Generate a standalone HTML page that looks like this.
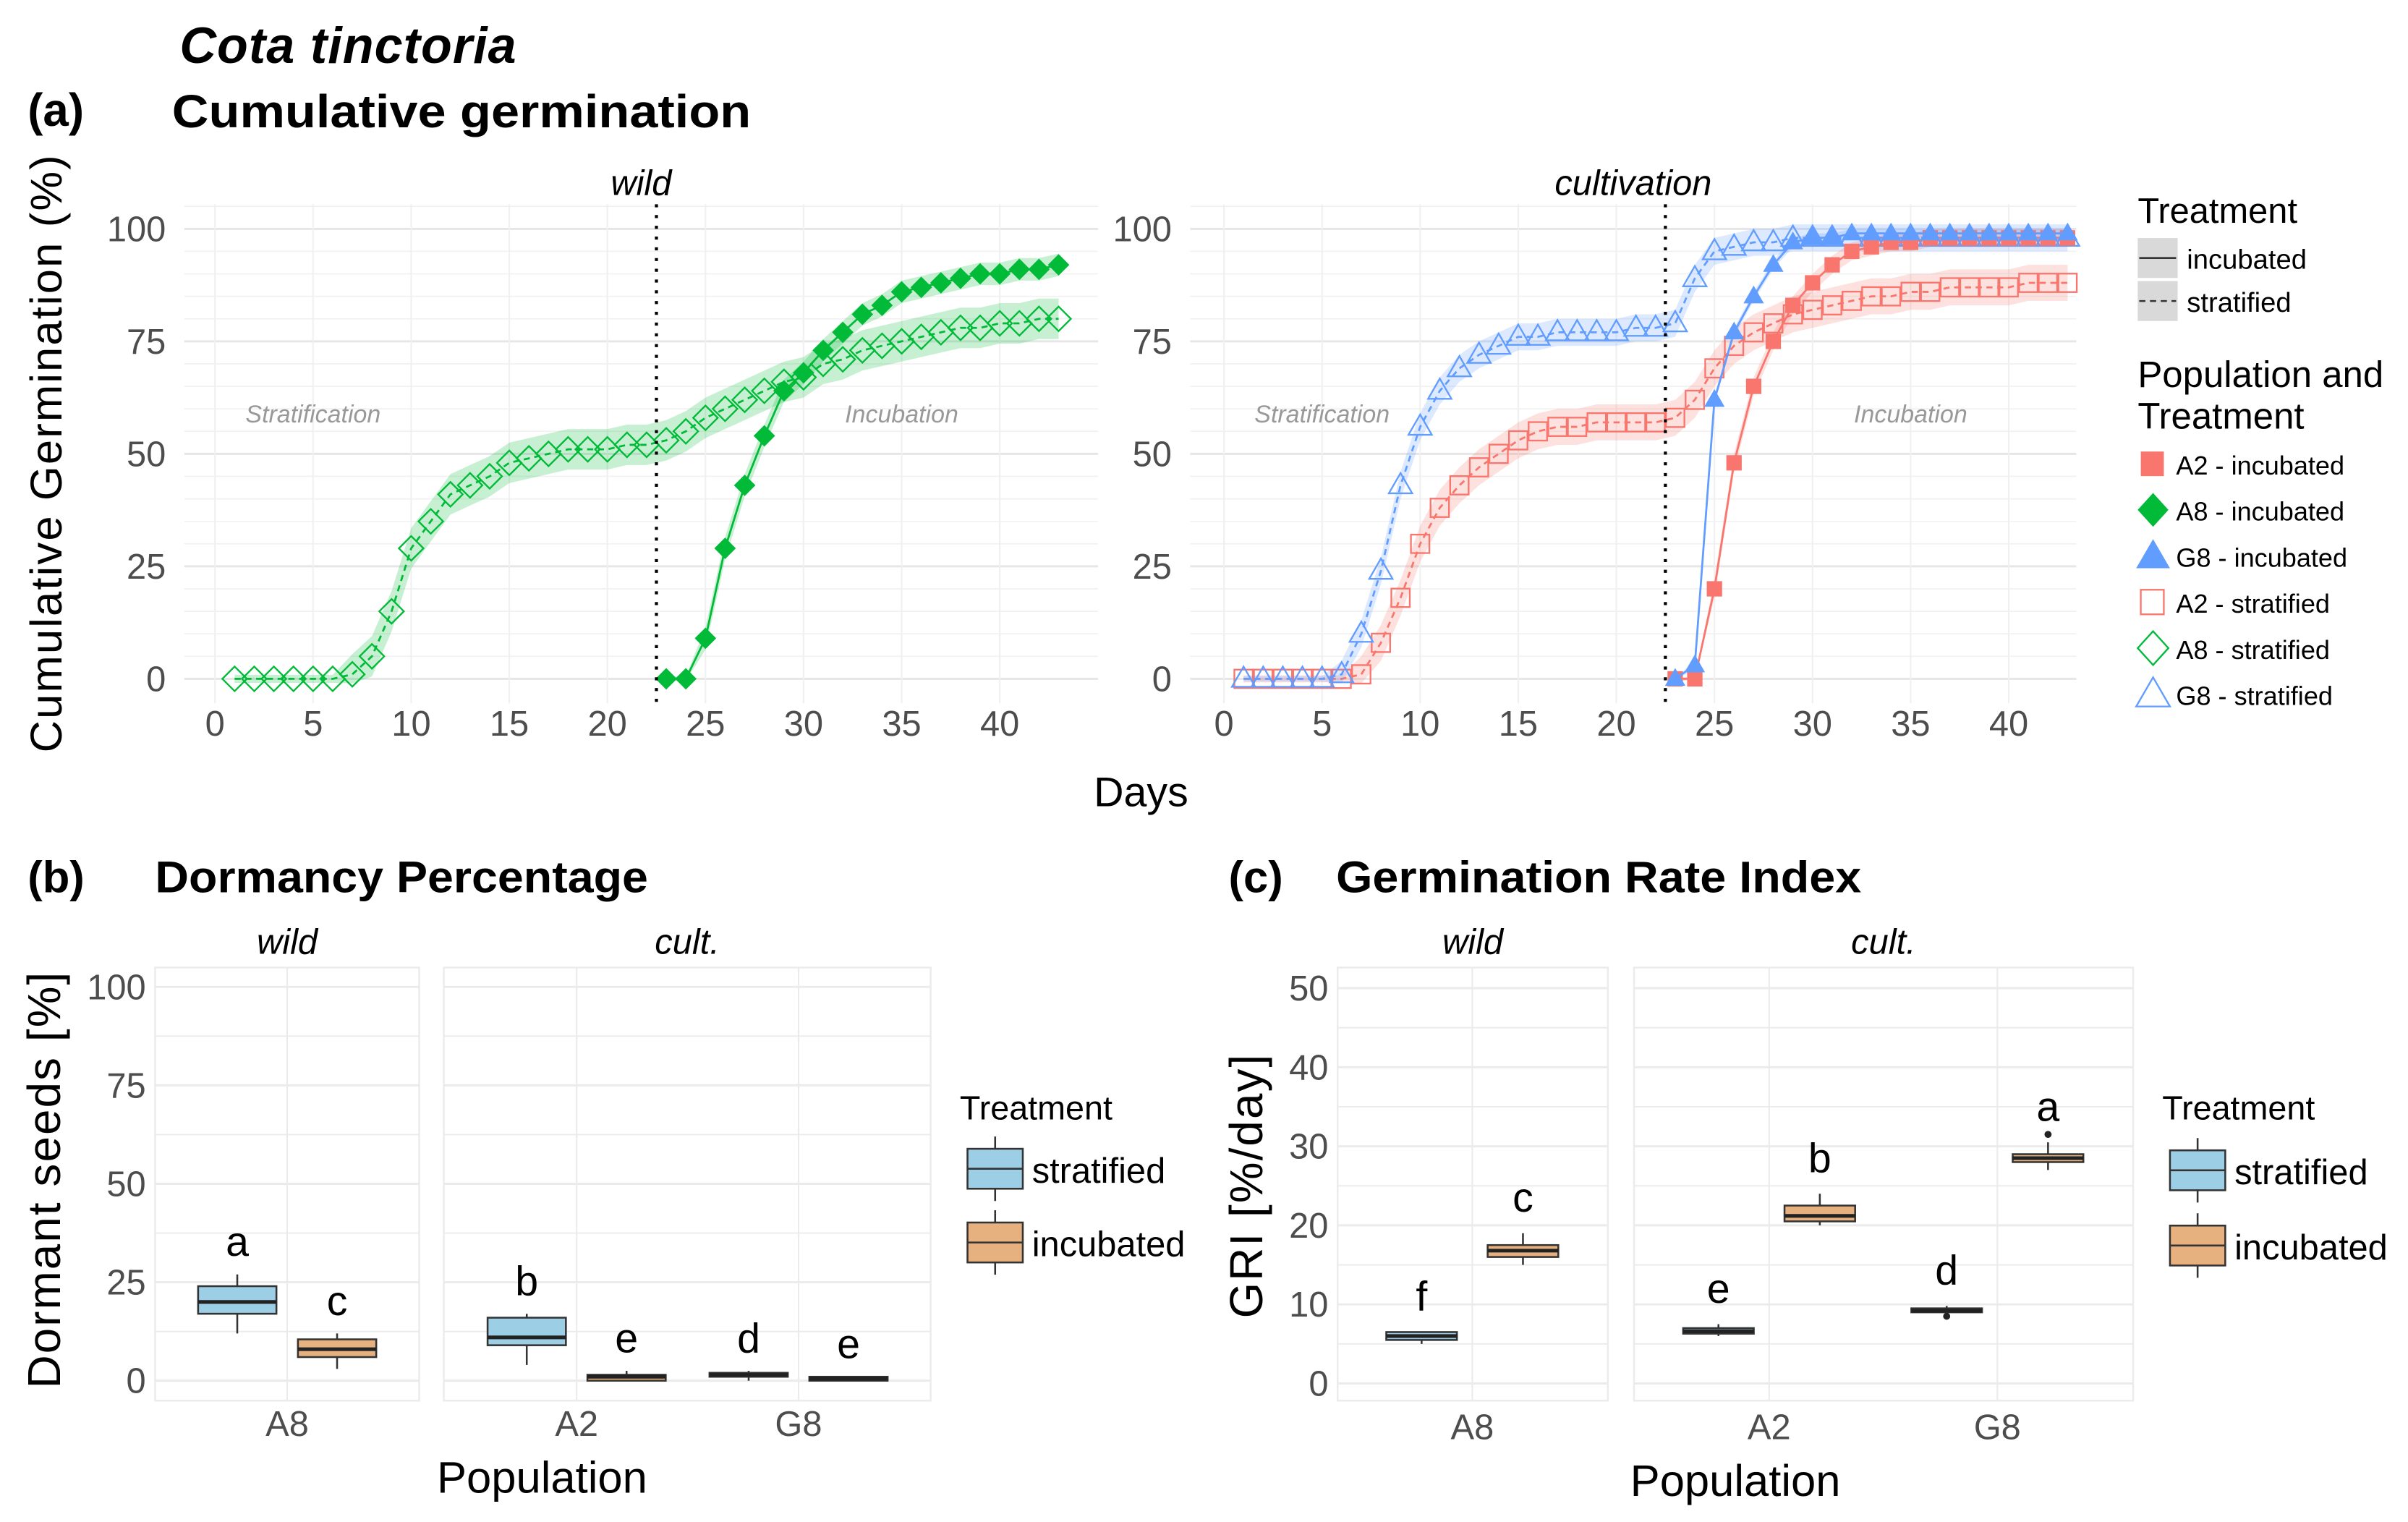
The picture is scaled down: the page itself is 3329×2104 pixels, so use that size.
<!DOCTYPE html>
<html><head><meta charset="utf-8"><style>
html,body{margin:0;padding:0;background:#fff;}
svg{display:block;font-family:"Liberation Sans",Arial,sans-serif;}
</style></head><body>
<svg id="fig" xmlns="http://www.w3.org/2000/svg" width="3329" height="2104" viewBox="0 0 1568 991">
<rect x="0" y="0" width="1568" height="991" fill="#fff"/>
<text x="117" y="41" font-size="33" font-weight="bold" font-style="italic" letter-spacing="0.5">Cota tinctoria</text>
<text x="18" y="82" font-size="30" font-weight="bold">(a)</text>
<text x="112" y="83" font-size="30" font-weight="bold" textLength="377" lengthAdjust="spacingAndGlyphs">Cumulative germination</text>
<text x="18" y="581" font-size="29" font-weight="bold">(b)</text>
<text x="101" y="581" font-size="29" font-weight="bold" textLength="321" lengthAdjust="spacingAndGlyphs">Dormancy Percentage</text>
<text x="800" y="581" font-size="29" font-weight="bold">(c)</text>
<text x="870" y="581" font-size="29" font-weight="bold" textLength="342" lengthAdjust="spacingAndGlyphs">Germination Rate Index</text>
<g id="g"></g>
</svg>
<script>
// ---------- Panel (a) data ----------
const wildStratDays = [1,2,3,4,5,6,7,8,9,10,11,12,13,14,15,16,17,18,19,20,21,22,23,24,25,26,27,28,29,30,31,32,33,34,35,36,37,38,39,40,41,42,43];
const wildStratVals = [0,0,0,0,0,0,1,5,15,29,35,41,43,45,48,49,50,51,51,51,52,52,53,55,58,60,62,64,66,67,70,71,73,74,75,76,77,78,78,79,79,80,80];
const wildIncDays = [23,24,25,26,27,28,29,30,31,32,33,34,35,36,37,38,39,40,41,42,43];
const wildIncVals = [0,0,9,29,43,54,64,68,73,77,81,83,86,87,88,89,90,90,91,91,92];
const cultStratDays = [1,2,3,4,5,6,7,8,9,10,11,12,13,14,15,16,17,18,19,20,21,22,23,24,25,26,27,28,29,30,31,32,33,34,35,36,37,38,39,40,41,42,43];
const g8StratVals = [0,0,0,0,0,1,10,24,43,56,64,69,72,74,76,76,77,77,77,77,78,78,79,89,95,96,97,97,98,98,98,98,98,98,98,98,98,98,98,98,98,98,98];
const a2StratVals = [0,0,0,0,0,0,1,8,18,30,38,43,47,50,53,55,56,56,57,57,57,57,58,62,69,74,77,79,81,82,83,84,85,85,86,86,87,87,87,87,88,88,88];
const cultIncDays = [23,24,25,26,27,28,29,30,31,32,33,34,35,36,37,38,39,40,41,42,43];
const g8IncVals = [0,3,62,77,85,92,97,98,98,99,99,99,99,99,99,99,99,99,99,99,99];
const a2IncVals = [0,0,20,48,65,75,83,88,92,95,96,97,97,98,98,98,98,98,98,98,98];
const dayTicks = [0,5,10,15,20,25,30,35,40];
const pctTicks = [0,25,50,75,100];

// ---------- Panel (b) data ----------
const popCats = ["A8","A2","G8"];
// [whiskerLow, q1, median, q3, whiskerHigh]
const dormStrat = [[12,17,20,24,27],[4,9,11,16,17],[0,1,1.5,2,2.5]];
const dormInc = [[3,6,8,10.5,12],[0,0,1,1.5,2.5],[0,0,0.5,1,1]];
const dormLettersStrat = ["a","b","d"];
const dormLettersInc = ["c","e","e"];
const dormTicks = [0,25,50,75,100];

// ---------- Panel (c) data ----------
const griStrat = [[5,5.5,6,6.5,6.5],[6,6.3,6.6,7,7.5],[9,9,9.2,9.5,9.8]];
const griInc = [[15,16,16.8,17.5,19],[20,20.5,21.2,22.5,24],[27,28,28.5,29,30.5]];
const griOutStrat = [null,null,8.5];
const griOutInc = [null,null,31.5];
const griLettersStrat = ["f","e","d"];
const griLettersInc = ["c","b","a"];
const griTicks = [0,10,20,30,40,50];

const NS="http://www.w3.org/2000/svg";
const root=document.getElementById('g');
function mk(tag,attrs,parent){const e=document.createElementNS(NS,tag);for(const k in attrs)e.setAttribute(k,attrs[k]);(parent||root).appendChild(e);return e;}
function txt(x,y,s,attrs,parent){const e=mk('text',Object.assign({x:x,y:y},attrs),parent);e.textContent=s;return e;}

const GREEN="#00BA38",RED="#F8766D",BLUE="#619CFF";

// ---------- Panel (a) ----------
function cumPanel(name,x0,x1,day0px,day40px,stripLabel,series){
  const g=mk('g',{});
  
  
  const X=d=>day0px+(day40px-day0px)*d/40;
  const Y=v=>442+(149-442)*v/100;
  for(let v=0;v<=105;v+=5){
    const l=mk('line',{x1:x0,x2:x1,y1:Y(v),y2:Y(v),stroke:v%25===0?'#e6e6e6':'#f1f1f1','stroke-width':v%25===0?1.4:0.8},g);
    
    
  }
  for(let d=0;d<=43;d+=5){
    const l=mk('line',{x1:X(d),x2:X(d),y1:133,y2:458,stroke:'#f0f0f0','stroke-width':1},g);
    
    
  }
  pctTicks.forEach(v=>{const t=txt(x0-12,Y(v)+8,String(v),{'font-size':23,fill:'#4d4d4d','text-anchor':'end'},g);
    });
  dayTicks.forEach(d=>{const t=txt(X(d),479,String(d),{'font-size':23,fill:'#4d4d4d','text-anchor':'middle'},g);
    });
  const s=txt((x0+x1)/2,127,stripLabel,{'font-size':23,'font-style':'italic','text-anchor':'middle'},g);
  
  const a1=txt(X(5),275,'Stratification',{'font-size':16,'font-style':'italic',fill:'#999','text-anchor':'middle'},g);
  
  const a2=txt(X(35),275,'Incubation',{'font-size':16,'font-style':'italic',fill:'#999','text-anchor':'middle'},g);
  
  series.forEach(sr=>{
    let up=sr.days.map((d,i)=>X(d)+','+Y(Math.min(sr.vals[i]+sr.ci*(sr.vals[i]>0?1:0.2),102)));
    let lo=sr.days.map((d,i)=>X(d)+','+Y(Math.max(sr.vals[i]-sr.ci*(sr.vals[i]>0?1:0.2),-1))).reverse();
    const rb=mk('polygon',{points:up.concat(lo).join(' '),fill:sr.col,'fill-opacity':0.22,stroke:'none'},g);
    
    const ln=mk('polyline',{points:sr.days.map((d,i)=>X(d)+','+Y(sr.vals[i])).join(' '),fill:'none',stroke:sr.col,'stroke-width':1.3,'stroke-dasharray':sr.dash?'4,3':'none'},g);
    
    sr.days.forEach((d,i)=>{
      const m=marker(sr.shape,X(d),Y(sr.vals[i]),sr.col,sr.filled,g);
      
      
    });
  });
  const vl=mk('line',{x1:X(22.5),x2:X(22.5),y1:133,y2:458,stroke:'#000','stroke-width':2,'stroke-dasharray':'2,5'},g);
  
}
function marker(shape,x,y,col,filled,g){
  const fill=filled?col:'none',sw=filled?0:1.1;
  if(shape==='diamond'){const r=filled?7:8;return mk('polygon',{points:`${x},${y-r} ${x+r},${y} ${x},${y+r} ${x-r},${y}`,fill:fill,stroke:col,'stroke-width':sw},g);}
  if(shape==='square'){const r=filled?5:6;return mk('rect',{x:x-r,y:y-r,width:2*r,height:2*r,fill:fill,stroke:col,'stroke-width':sw},g);}
  const r=filled?7:8;return mk('polygon',{points:`${x},${y-r} ${x+r*0.95},${y+r*0.65} ${x-r*0.95},${y+r*0.65}`,fill:fill,stroke:col,'stroke-width':sw},g);
}
cumPanel('wild-germination-panel',120,715,140,651,'wild',[
  {name:'a8-stratified',days:wildStratDays,vals:wildStratVals,col:GREEN,shape:'diamond',filled:false,dash:true,ci:4.5},
  {name:'a8-incubated',days:wildIncDays,vals:wildIncVals,col:GREEN,shape:'diamond',filled:true,dash:false,ci:2.5}
]);
cumPanel('cultivation-germination-panel',775,1352,797,1308,'cultivation',[
  {name:'a2-stratified',days:cultStratDays,vals:a2StratVals,col:RED,shape:'square',filled:false,dash:true,ci:4},
  {name:'g8-stratified',days:cultStratDays,vals:g8StratVals,col:BLUE,shape:'triangle',filled:false,dash:true,ci:3},
  {name:'a2-incubated',days:cultIncDays,vals:a2IncVals,col:RED,shape:'square',filled:true,dash:false,ci:2},
  {name:'g8-incubated',days:cultIncDays,vals:g8IncVals,col:BLUE,shape:'triangle',filled:true,dash:false,ci:1}
]);
let t;
t=txt(40,295,'Cumulative Germination (%)',{'font-size':29,'letter-spacing':'1','text-anchor':'middle',transform:'rotate(-90 40 295)'});

t=txt(743,525,'Days',{'font-size':27,'text-anchor':'middle'});


// legend (a)
t=txt(1392,145,'Treatment',{'font-size':23});

[['incubated',155,'none'],['stratified',183,'4,3']].forEach(([lab,y,dash])=>{
  const g=mk('g',{});
  
  mk('rect',{x:1392,y:y,width:26,height:26,fill:'#d9d9d9'},g);
  mk('line',{x1:1393,x2:1417,y1:y+13,y2:y+13,stroke:'#333','stroke-width':1.2,'stroke-dasharray':dash},g);
  txt(1424,y+20,lab,{'font-size':18},g);
});
t=txt(1392,252,'Population and',{'font-size':24});

t=txt(1392,279,'Treatment',{'font-size':24});

[['A2 - incubated','square',RED,true],['A8 - incubated','diamond',GREEN,true],['G8 - incubated','triangle',BLUE,true],
 ['A2 - stratified','square',RED,false],['A8 - stratified','diamond',GREEN,false],['G8 - stratified','triangle',BLUE,false]].forEach((e,i)=>{
  const g=mk('g',{});
  
  
  const y=302+30*i;
  const m=marker(e[1],1402,y,e[2],e[3],g);
  if(e[1]==='square'){m.setAttribute('x',1394);m.setAttribute('y',y-8);m.setAttribute('width',15);m.setAttribute('height',16);}
  if(e[1]==='diamond'){m.setAttribute('points',`1402,${y-11} 1412,${y} 1402,${y+11} 1392,${y}`);}
  if(e[1]==='triangle'){m.setAttribute('points',`1402,${y-11} 1413,${y+8} 1391,${y+8}`);}
  txt(1417,y+7,e[0],{'font-size':17},g);
});

// ---------- Box panels ----------
function boxFigure(name,cfg){
  const Y=v=>cfg.y0+(cfg.yTop-cfg.y0)*v/cfg.max;
  cfg.facets.forEach(f=>{
    const g=mk('g',{});
    
    
    mk('rect',{x:f.x0,y:630,width:f.x1-f.x0,height:282,fill:'none',stroke:'#ececec','stroke-width':1.2},g);
    for(let v=0;v<=cfg.max;v+=cfg.step/2){
      mk('line',{x1:f.x0,x2:f.x1,y1:Y(v),y2:Y(v),stroke:'#ebebeb','stroke-width':(v%cfg.step===0)?1.4:0.9},g);
    }
    f.cats.forEach(ci=>{mk('line',{x1:f.cx[ci],x2:f.cx[ci],y1:630,y2:912,stroke:'#ebebeb','stroke-width':1},g);
      const tl=txt(f.cx[ci],cfg.xTickY,popCats[ci],{'font-size':23,fill:'#4d4d4d','text-anchor':'middle'},g);
      });
    const st=txt((f.x0+f.x1)/2,621,f.label,{'font-size':23,'font-style':'italic','text-anchor':'middle'},g);
    
    f.cats.forEach(ci=>{
      [[cfg.strat[ci],-cfg.dodge,'#9ccfe6',cfg.lStrat[ci],cfg.outStrat?cfg.outStrat[ci]:null,'stratified'],
       [cfg.inc[ci],cfg.dodge,'#e6b07f',cfg.lInc[ci],cfg.outInc?cfg.outInc[ci]:null,'incubated']].forEach(([b,off,col,lt,out,tr])=>{
        const cx=f.cx[ci]+off,w=cfg.bw;
        const bg=mk('g',{},g);
        
        
        mk('line',{x1:cx,x2:cx,y1:Y(b[0]),y2:Y(b[4]),stroke:'#333','stroke-width':1.2},bg);
        mk('rect',{x:cx-w/2,y:Y(b[3]),width:w,height:Math.max(Y(b[1])-Y(b[3]),1.5),fill:col,stroke:'#333','stroke-width':1.2},bg);
        mk('line',{x1:cx-w/2,x2:cx+w/2,y1:Y(b[2]),y2:Y(b[2]),stroke:'#222','stroke-width':2.4},bg);
        if(out!==null)mk('circle',{cx:cx,cy:Y(out),r:2.3,fill:'#222'},bg);
        const lg=txt(cx,Y(b[4])-cfg.letterGap,lt,{'font-size':27,'text-anchor':'middle'},g);
        
      });
    });
  });
  cfg.ticks.forEach(v=>{const tl=txt(cfg.facets[0].x0-6,Y(v)+8,String(v),{'font-size':23,fill:'#4d4d4d','text-anchor':'end'});
    });
  let tt=txt(cfg.yTitleX,cfg.yTitleY,cfg.yTitle,{'font-size':30,'letter-spacing':'1','text-anchor':'middle',transform:`rotate(-90 ${cfg.yTitleX} ${cfg.yTitleY})`});
  
  tt=txt(cfg.popX,cfg.popY,'Population',{'font-size':29,'text-anchor':'middle'});
  
  tt=txt(cfg.legX,729,'Treatment',{'font-size':22});
  
  [['stratified','#9ccfe6',cfg.legY[0]],['incubated','#e6b07f',cfg.legY[1]]].forEach(([lab,col,y])=>{
    const lg=mk('g',{});
    
    const bx=cfg.legX+5;
    mk('line',{x1:bx+18,x2:bx+18,y1:y-6,y2:y+36,stroke:'#333','stroke-width':1.2},lg);
    mk('rect',{x:bx,y:y+2,width:36,height:26,fill:col,stroke:'#333','stroke-width':1.2},lg);
    mk('line',{x1:bx,x2:bx+36,y1:y+15,y2:y+15,stroke:'#333','stroke-width':1.2},lg);
    txt(bx+42,y+24,lab,{'font-size':23},lg);
  });
}
boxFigure('dormancy',{y0:899,yTop:642.6,max:100,step:25,ticks:dormTicks,dodge:32.5,bw:51,letterGap:12,
  strat:dormStrat,inc:dormInc,lStrat:dormLettersStrat,lInc:dormLettersInc,
  facets:[{label:'wild',x0:101,x1:273,cats:[0],cx:{0:187}},{label:'cult.',x0:289,x1:606,cats:[1,2],cx:{1:375.5,2:520}}],
  xTickY:935,yTitleX:39,yTitleY:768,yTitle:'Dormant seeds [%]',popX:353,popY:972,legX:625,legY:[746,794]});
boxFigure('gri',{y0:900.8,yTop:643.4,max:50,step:10,ticks:griTicks,dodge:33,bw:46,letterGap:14,
  strat:griStrat,inc:griInc,lStrat:griLettersStrat,lInc:griLettersInc,outStrat:griOutStrat,outInc:griOutInc,
  facets:[{label:'wild',x0:871,x1:1047,cats:[0],cx:{0:958.7}},{label:'cult.',x0:1064,x1:1389,cats:[1,2],cx:{1:1152,2:1300.6}}],
  xTickY:937,yTitleX:822,yTitleY:772,yTitle:'GRI [%/day]',popX:1130,popY:974,legX:1408,legY:[747,796]});
</script>
</body></html>
